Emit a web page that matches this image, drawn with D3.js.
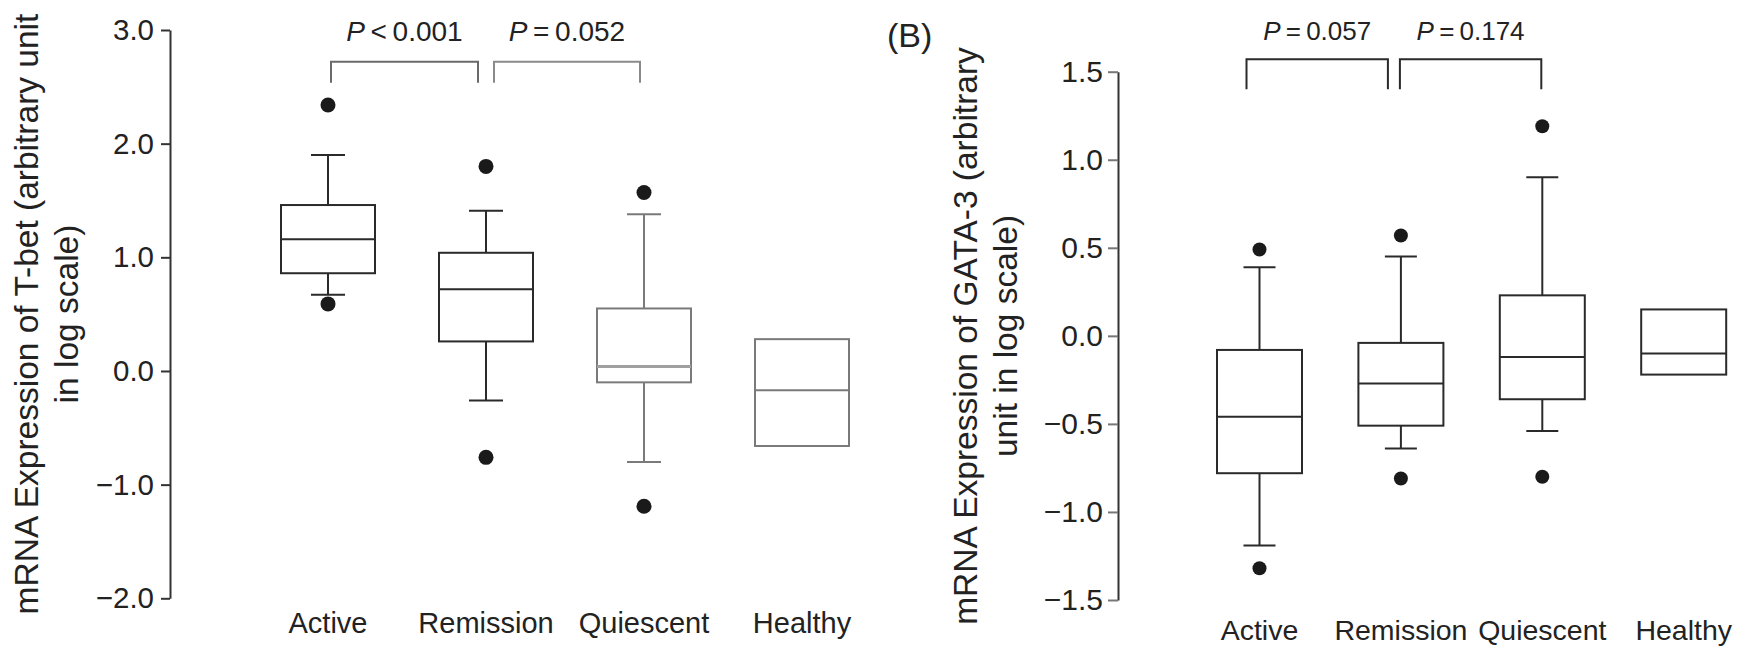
<!DOCTYPE html>
<html>
<head>
<meta charset="utf-8">
<script src="https://cdn.jsdelivr.net/npm/d3@7"></script>
<style>
  html, body { margin: 0; padding: 0; background: #fff; }
  svg { display: block; font-family: "Liberation Sans", Arial, Helvetica, sans-serif; }
</style>
</head>
<body>
<svg id="chart" width="1756" height="647"></svg>
<script>
// ---- data ----
const categories = ["Active", "Remission", "Quiescent", "Healthy"];

// Panel A: T-bet expression (log scale)
const tbetLowerWhisker = [0.67, -0.26, -0.80, null];
const tbetQ1           = [0.86, 0.26, -0.10, -0.66];
const tbetMedian       = [1.16, 0.72, 0.04, -0.17];
const tbetQ3           = [1.46, 1.04, 0.55, 0.28];
const tbetUpperWhisker = [1.90, 1.41, 1.38, null];
const tbetOutliers     = [[2.34, 0.59], [1.80, -0.76], [1.57, -1.19], []];
const tbetTicks        = [3.0, 2.0, 1.0, 0.0, -1.0, -2.0];
const tbetComparisons  = [[0, 1], [1, 2]];
const tbetPValues      = ["< 0.001", "= 0.052"];

// Panel B: GATA-3 expression (log scale)
const gataLowerWhisker = [-1.19, -0.64, -0.54, null];
const gataQ1           = [-0.78, -0.51, -0.36, -0.22];
const gataMedian       = [-0.46, -0.27, -0.12, -0.10];
const gataQ3           = [-0.08, -0.04, 0.23, 0.15];
const gataUpperWhisker = [0.39, 0.45, 0.90, null];
const gataOutliers     = [[0.49, -1.32], [0.57, -0.81], [1.19, -0.80], []];
const gataTicks        = [1.5, 1.0, 0.5, 0.0, -0.5, -1.0, -1.5];
const gataComparisons  = [[0, 1], [1, 2]];
const gataPValues      = ["= 0.057", "= 0.174"];

// ---- rendering ----
const svg = d3.select("#chart");
const FONT = "'Liberation Sans', Arial, Helvetica, sans-serif";
const fmt = v => (v < 0 ? "\u2212" : "") + Math.abs(v).toFixed(1);

function drawPanel(cfg) {
  const g = svg.append("g");
  const x = d3.scalePoint().domain(categories).range(cfg.xRange);
  const y = d3.scaleLinear().domain(cfg.yDomain).range(cfg.yRange);

  // y axis
  const axis = d3.axisLeft(y)
    .tickValues(cfg.ticks)
    .tickFormat(fmt)
    .tickSize(cfg.tickSize)
    .tickSizeOuter(0)
    .tickPadding(cfg.tickPadding);
  const ag = g.append("g").attr("transform", `translate(${cfg.axisX},0)`).call(axis);
  ag.select(".domain").attr("stroke", "#333").attr("stroke-width", 2);
  ag.selectAll(".tick line").attr("stroke", cfg.tickColor).attr("stroke-width", 2);
  ag.selectAll(".tick text")
    .attr("fill", "#222")
    .style("font-family", FONT)
    .style("font-size", cfg.tickFont + "px");

  // y axis title (two lines)
  cfg.title.forEach((line, i) => {
    g.append("text")
      .attr("transform", `translate(${cfg.titleX[i]},${cfg.titleY}) rotate(-90)`)
      .attr("text-anchor", "middle")
      .attr("fill", "#222")
      .style("font-family", FONT)
      .style("font-size", "33.5px")
      .text(line);
  });

  // category labels
  g.selectAll("text.cat").data(categories).join("text")
    .attr("class", "cat")
    .attr("x", d => x(d))
    .attr("y", cfg.catY)
    .attr("text-anchor", "middle")
    .attr("fill", "#222")
    .style("font-family", FONT)
    .style("font-size", cfg.catFont + "px")
    .text(d => d);

  // boxes
  const bw = cfg.boxWidth, cw = cfg.capWidth;
  categories.forEach((c, i) => {
    const cx = x(c);
    const col = cfg.colors[i];
    const bg = g.append("g").attr("stroke", col).attr("stroke-width", 2).attr("fill", "none");
    if (cfg.upper[i] != null) {
      bg.append("line").attr("x1", cx).attr("x2", cx)
        .attr("y1", y(cfg.upper[i])).attr("y2", y(cfg.q3[i]));
      bg.append("line").attr("x1", cx - cw / 2).attr("x2", cx + cw / 2)
        .attr("y1", y(cfg.upper[i])).attr("y2", y(cfg.upper[i]));
    }
    if (cfg.lower[i] != null) {
      bg.append("line").attr("x1", cx).attr("x2", cx)
        .attr("y1", y(cfg.q1[i])).attr("y2", y(cfg.lower[i]));
      bg.append("line").attr("x1", cx - cw / 2).attr("x2", cx + cw / 2)
        .attr("y1", y(cfg.lower[i])).attr("y2", y(cfg.lower[i]));
    }
    bg.append("rect")
      .attr("x", cx - bw / 2).attr("width", bw)
      .attr("y", y(cfg.q3[i])).attr("height", y(cfg.q1[i]) - y(cfg.q3[i]))
      .attr("fill", "#fff");
    bg.append("line")
      .attr("x1", cx - bw / 2).attr("x2", cx + bw / 2)
      .attr("y1", y(cfg.median[i])).attr("y2", y(cfg.median[i]))
      .attr("stroke", cfg.medianColors[i])
      .attr("stroke-width", cfg.medianWidths[i]);
    g.selectAll(null).data(cfg.outliers[i]).join("circle")
      .attr("cx", cx).attr("cy", d => y(d)).attr("r", cfg.dotR)
      .attr("fill", "#1a1a1a");
  });

  // significance brackets
  cfg.comparisons.forEach((pair, k) => {
    const x1 = x(categories[pair[0]]) + cfg.bracketInset[k][0];
    const x2 = x(categories[pair[1]]) + cfg.bracketInset[k][1];
    g.append("path")
      .attr("d", `M${x1},${cfg.bracketLegY}V${cfg.bracketY}H${x2}V${cfg.bracketLegY}`)
      .attr("fill", "none")
      .attr("stroke", cfg.bracketColors[k])
      .attr("stroke-width", 2);
    const t = g.append("text")
      .attr("x", (x1 + x2) / 2)
      .attr("y", cfg.pY)
      .attr("text-anchor", "middle")
      .attr("fill", "#222")
      .style("font-family", FONT)
      .style("font-size", cfg.pFont + "px");
    t.append("tspan").attr("font-style", "italic").text("P");
    t.append("tspan").text("\u2009" + cfg.pValues[k].replace(" ", "\u2009"));
  });
}

drawPanel({
  xRange: [328, 802],
  yDomain: [-2, 3], yRange: [598.3, 30],
  axisX: 170, ticks: tbetTicks, tickSize: 9, tickPadding: 7, tickFont: 29.5, tickColor: "#333",
  title: ["mRNA Expression of T-bet (arbitrary unit", "in log scale)"],
  titleX: [38, 78], titleY: 314,
  catY: 633, catFont: 29,
  boxWidth: 94, capWidth: 34, dotR: 7.5,
  lower: tbetLowerWhisker, q1: tbetQ1, median: tbetMedian, q3: tbetQ3, upper: tbetUpperWhisker,
  outliers: tbetOutliers,
  colors: ["#2a2a2a", "#2a2a2a", "#7a7a7a", "#7a7a7a"],
  medianColors: ["#2a2a2a", "#2a2a2a", "#a0a0a0", "#7a7a7a"],
  medianWidths: [2, 2, 3, 2],
  comparisons: tbetComparisons, pValues: tbetPValues,
  bracketInset: [[3, -8], [8, -4]],
  bracketColors: ["#6a6a6a", "#8a8a8a"],
  bracketY: 61.7, bracketLegY: 82.7, pY: 41, pFont: 28
});

drawPanel({
  xRange: [1259.5, 1683.7],
  yDomain: [-1.5, 1.5], yRange: [600, 71.7],
  axisX: 1118, ticks: gataTicks, tickSize: 10, tickPadding: 5, tickFont: 30, tickColor: "#777",
  title: ["mRNA Expression of GATA-3 (arbitrary", "unit in log scale)"],
  titleX: [977, 1017], titleY: 336,
  catY: 640, catFont: 28.5,
  boxWidth: 85, capWidth: 32, dotR: 7,
  lower: gataLowerWhisker, q1: gataQ1, median: gataMedian, q3: gataQ3, upper: gataUpperWhisker,
  outliers: gataOutliers,
  colors: ["#2a2a2a", "#2a2a2a", "#2a2a2a", "#2a2a2a"],
  medianColors: ["#2a2a2a", "#2a2a2a", "#2a2a2a", "#2a2a2a"],
  medianWidths: [2, 2, 2, 2],
  comparisons: gataComparisons, pValues: gataPValues,
  bracketInset: [[-13, -13], [-1, -1]],
  bracketColors: ["#2a2a2a", "#2a2a2a"],
  bracketY: 59.3, bracketLegY: 89.3, pY: 40, pFont: 26
});

// panel letter
svg.append("text")
  .attr("x", 887).attr("y", 47)
  .attr("fill", "#222")
  .style("font-family", FONT)
  .style("font-size", "34px")
  .text("(B)");
</script>
</body>
</html>
